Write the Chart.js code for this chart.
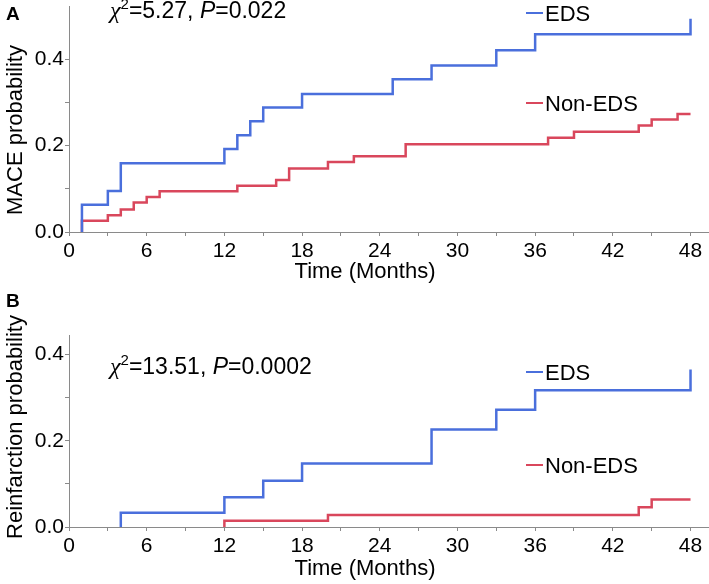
<!DOCTYPE html>
<html>
<head>
<meta charset="utf-8">
<script src="https://cdn.jsdelivr.net/npm/chart.js@4.4.1/dist/chart.umd.min.js"></script>
<style>
  html, body { margin: 0; padding: 0; background: #ffffff; }
  #wrap { position: relative; width: 709px; height: 584px; }
  .panel { position: absolute; left: 0; width: 709px; }
  #pa { top: 0; height: 290px; }
  #pb { top: 290px; height: 294px; }
</style>
</head>
<body>
<div id="wrap">
  <div class="panel" id="pa"><canvas id="cA" width="709" height="290"></canvas></div>
  <div class="panel" id="pb"><canvas id="cB" width="709" height="294"></canvas></div>
</div>
<script>
// ---------- DATA ----------
// Panel A: MACE probability (Kaplan-Meier cumulative)
const edsTimesA    = [1, 1, 3, 4, 12, 13, 14, 15, 18, 25, 28, 33, 36, 48];
const edsProbA     = [0, 0.063, 0.095, 0.159, 0.192, 0.224, 0.256, 0.288, 0.319, 0.353, 0.385, 0.420, 0.457, 0.493];
const nonEdsTimesA = [1, 1, 3, 4, 5, 6, 7, 13, 16, 17, 20, 22, 26, 37, 39, 44, 45, 47, 48];
const nonEdsProbA  = [0, 0.026, 0.039, 0.052, 0.068, 0.081, 0.094, 0.107, 0.120, 0.147, 0.162, 0.175, 0.203, 0.218, 0.232, 0.246, 0.260, 0.273, 0.273];
// Panel B: Reinfarction probability
const edsTimesB    = [4, 4, 12, 15, 18, 28, 33, 36, 48];
const edsProbB     = [0, 0.033, 0.069, 0.107, 0.147, 0.226, 0.272, 0.317, 0.365];
const nonEdsTimesB = [12, 12, 20, 44, 45, 48];
const nonEdsProbB  = [0, 0.0147, 0.028, 0.046, 0.064, 0.064];

const seriesNames = ['EDS', 'Non-EDS'];
const xTickValues = [0, 3, 6, 9, 12, 15, 18, 21, 24, 27, 30, 33, 36, 39, 42, 45, 48];
const xTickLabels = ['0', '', '6', '', '12', '', '18', '', '24', '', '30', '', '36', '', '42', '', '48'];
const yTickValues = [0, 0.1, 0.2, 0.3, 0.4];
const yTickLabels = ['0.0', '', '0.2', '', '0.4'];
const statTextA = ['5.27', '0.022'];
const statTextB = ['13.51', '0.0002'];

// ---------- STYLE ----------
const BLUE = '#4a6fdc';
const RED = '#d9475c';
const AXIS = '#8a8a8a';
const SANS = '"Liberation Sans", Arial, sans-serif';

function pts(xs, ys) { return xs.map((x, i) => ({ x: x, y: ys[i] })); }

function annotPlugin(cfg) {
  return {
    id: 'annot',
    afterDraw(chart) {
      const ctx = chart.ctx;
      ctx.save();
      ctx.fillStyle = '#000';
      // panel letter
      ctx.font = 'bold 19px ' + SANS;
      ctx.textAlign = 'left';
      ctx.textBaseline = 'alphabetic';
      ctx.fillText(cfg.letter, 6, cfg.letterY);
      // y title
      ctx.save();
      ctx.font = '22px ' + SANS;
      ctx.translate(22, cfg.yTitleY);
      ctx.rotate(-Math.PI / 2);
      ctx.textAlign = 'center';
      ctx.fillText(cfg.yTitle, 0, 0);
      ctx.restore();
      // x title
      ctx.font = '22px ' + SANS;
      ctx.textAlign = 'center';
      ctx.fillText('Time (Months)', 365, cfg.xTitleY);
      // statistic
      let x = 110;
      const by = cfg.statY;
      ctx.textAlign = 'left';
      ctx.font = 'italic 24px "Liberation Serif", "Times New Roman", serif';
      ctx.fillText('\u03C7', x, by);
      x += ctx.measureText('\u03C7').width;
      ctx.font = '15px ' + SANS;
      ctx.fillText('2', x, by - 9);
      x += ctx.measureText('2').width;
      ctx.font = '23px ' + SANS;
      const s1 = '=' + cfg.stat[0] + ', ';
      ctx.fillText(s1, x, by);
      x += ctx.measureText(s1).width;
      ctx.font = 'italic 23px ' + SANS;
      ctx.fillText('P', x, by);
      x += ctx.measureText('P').width;
      ctx.font = '23px ' + SANS;
      ctx.fillText('=' + cfg.stat[1], x, by);
      // legend
      ctx.font = '22px ' + SANS;
      const cols = [BLUE, RED];
      cfg.legendY.forEach((ly, i) => {
        ctx.strokeStyle = cols[i];
        ctx.lineWidth = 2;
        ctx.beginPath();
        ctx.moveTo(526, ly);
        ctx.lineTo(543, ly);
        ctx.stroke();
        ctx.fillStyle = '#000';
        ctx.fillText(seriesNames[i], 545, ly + 8);
      });
      ctx.restore();
    }
  };
}

function makeChart(id, eds, non, yMax, padTop, xHeight, cfg) {
  return new Chart(document.getElementById(id), {
    type: 'line',
    data: {
      datasets: [
        { label: seriesNames[0], data: eds, borderColor: BLUE, borderWidth: 2.5, stepped: true, pointRadius: 0, fill: false },
        { label: seriesNames[1], data: non, borderColor: RED, borderWidth: 2.5, stepped: true, pointRadius: 0, fill: false }
      ]
    },
    options: {
      responsive: false,
      animation: false,
      devicePixelRatio: 1,
      layout: { padding: { top: padTop, right: 1, left: 0, bottom: 0 } },
      plugins: { legend: { display: false }, tooltip: { enabled: false }, title: { display: false } },
      scales: {
        x: {
          type: 'linear', min: 0, max: 49.35,
          afterBuildTicks: (s) => { s.ticks = xTickValues.map(v => ({ value: v })); },
          afterFit: (s) => { s.height = xHeight; s.paddingLeft = 0; s.paddingRight = 0; },
          ticks: {
            autoSkip: false, maxRotation: 0, padding: 3, color: '#000',
            font: { family: SANS, size: 21 },
            callback: (v) => { const i = xTickValues.indexOf(v); return i >= 0 ? xTickLabels[i] : ''; }
          },
          grid: { drawOnChartArea: false, drawTicks: true, tickLength: 4, color: AXIS },
          border: { color: AXIS, width: 1 }
        },
        y: {
          type: 'linear', min: 0, max: yMax,
          afterBuildTicks: (s) => { s.ticks = yTickValues.map(v => ({ value: v })); },
          afterFit: (s) => { s.width = 69; s.paddingTop = 0; s.paddingBottom = 0; },
          ticks: {
            autoSkip: false, padding: 1, color: '#000',
            font: { family: SANS, size: 21 },
            callback: (v) => { const i = yTickValues.findIndex(t => Math.abs(t - v) < 1e-9); return i >= 0 ? yTickLabels[i] : ''; }
          },
          grid: { drawOnChartArea: false, drawTicks: true, tickLength: 4, color: AXIS },
          border: { color: AXIS, width: 1 }
        }
      }
    },
    plugins: [annotPlugin(cfg)]
  });
}

makeChart('cA', pts(edsTimesA, edsProbA), pts(nonEdsTimesA, nonEdsProbA), 0.5226, 6, 58, {
  letter: 'A', letterY: 20, yTitle: 'MACE probability', yTitleY: 130, xTitleY: 278,
  stat: statTextA, statY: 18, legendY: [13, 103]
});
makeChart('cB', pts(edsTimesB, edsProbB), pts(nonEdsTimesB, nonEdsProbB), 0.445, 45, 57, {
  letter: 'B', letterY: 17, yTitle: 'Reinfarction probability', yTitleY: 137, xTitleY: 285,
  stat: statTextB, statY: 84, legendY: [82, 175]
});
</script>
</body>
</html>
